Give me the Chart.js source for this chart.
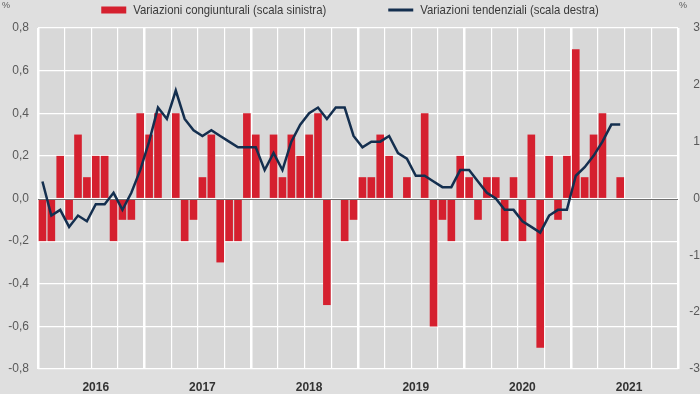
<!DOCTYPE html>
<html><head><meta charset="utf-8">
<script src="https://cdn.jsdelivr.net/npm/chart.js@4.4.1/dist/chart.umd.min.js"></script>
<style>html,body{margin:0;padding:0;background:#dfdfdf;}#wrap{width:700px;height:394px;position:relative;}</style>
</head><body><div id="wrap"><canvas id="c"></canvas></div>
<script>
// ---- data ----
const years = ['2016', '2017', '2018', '2019', '2020', '2021'];
const monthNames = ['gen','feb','mar','apr','mag','giu','lug','ago','set','ott','nov','dic'];
// Variazioni congiunturali (scala sinistra), gen 2016 - giu 2021
const congiunturali = [
  -0.2, -0.2, 0.2, -0.1, 0.3, 0.1, 0.2, 0.2, -0.2, -0.1, -0.1, 0.4,
  0.3, 0.4, 0.0, 0.4, -0.2, -0.1, 0.1, 0.3, -0.3, -0.2, -0.2, 0.4,
  0.3, 0.0, 0.3, 0.1, 0.3, 0.2, 0.3, 0.4, -0.5, 0.0, -0.2, -0.1,
  0.1, 0.1, 0.3, 0.2, 0.0, 0.1, 0.0, 0.4, -0.6, -0.1, -0.2, 0.2,
  0.1, -0.1, 0.1, 0.1, -0.2, 0.1, -0.2, 0.3, -0.7, 0.2, -0.1, 0.2,
  0.7, 0.1, 0.3, 0.4, 0.0, 0.1
];
// Variazioni tendenziali (scala destra)
const tendenziali = [
  0.3, -0.3, -0.2, -0.5, -0.3, -0.4, -0.1, -0.1, 0.1, -0.2, 0.1, 0.5,
  1.0, 1.6, 1.4, 1.9, 1.4, 1.2, 1.1, 1.2, 1.1, 1.0, 0.9, 0.9,
  0.9, 0.5, 0.8, 0.5, 1.0, 1.3, 1.5, 1.6, 1.4, 1.6, 1.6, 1.1,
  0.9, 1.0, 1.0, 1.1, 0.8, 0.7, 0.4, 0.4, 0.3, 0.2, 0.2, 0.5,
  0.5, 0.3, 0.1, 0.0, -0.2, -0.2, -0.4, -0.5, -0.6, -0.3, -0.2, -0.2,
  0.4, 0.55, 0.75, 1.0, 1.3, 1.3
];
const seriesLabels = ['Variazioni congiunturali (scala sinistra)', 'Variazioni tendenziali (scala destra)'];
const unitLabel = '%';
const categories = years.flatMap(y => monthNames.map(m => m + ' ' + y));

// ---- style ----
const FONT = '"Liberation Sans Narrow", "Arial Narrow", "Liberation Sans", Arial, sans-serif';
const RED = '#d5202f';
const NAVY = '#142f4f';

const bgPlugin = {
  id: 'bg',
  beforeDraw(chart) {
    const {ctx, chartArea: a} = chart;
    ctx.save();
    ctx.fillStyle = '#d8d8d8';
    ctx.fillRect(a.left, a.top, a.right - a.left, a.bottom - a.top);
    ctx.restore();
  }
};
const zeroLine = {
  id: 'zeroLine',
  afterDatasetDraw(chart, args) {
    if (args.index !== 0) return;
    const {ctx, chartArea: a} = chart;
    const y = Math.round(chart.scales.y.getPixelForValue(0)) + 0.5;
    ctx.save();
    ctx.strokeStyle = '#6f6f6f';
    ctx.lineWidth = 1;
    ctx.beginPath(); ctx.moveTo(a.left, y); ctx.lineTo(a.right, y); ctx.stroke();
    ctx.restore();
  }
};
const legendPlugin = {
  id: 'customLegend',
  afterDraw(chart) {
    const ctx = chart.ctx;
    ctx.save();
    ctx.font = '13px ' + FONT;
    ctx.textBaseline = 'middle';
    const raw1 = ctx.measureText(seriesLabels[0]).width;
    const raw2 = ctx.measureText(seriesLabels[1]).width;
    const sx = Math.min(1, 193 / raw1);   // condense like the narrow original font
    const w1 = raw1 * sx, w2 = raw2 * sx;
    const box = 25, gapT = 7, gapItems = 62;
    const total = box + gapT + w1 + gapItems + box + gapT + w2;
    let x = (chart.width - total) / 2;
    const yMid = 10;
    const drawText = (t, tx) => {
      ctx.save(); ctx.translate(tx, yMid); ctx.scale(sx, 1);
      ctx.fillStyle = '#3a3a3a'; ctx.fillText(t, 0, 0); ctx.restore();
    };
    ctx.fillStyle = RED;
    ctx.fillRect(x, yMid - 3.5, box, 7);
    drawText(seriesLabels[0], x + box + gapT);
    x += box + gapT + w1 + gapItems;
    ctx.strokeStyle = NAVY; ctx.lineWidth = 3;
    ctx.beginPath(); ctx.moveTo(x, yMid); ctx.lineTo(x + box, yMid); ctx.stroke();
    drawText(seriesLabels[1], x + box + gapT);
    // unit labels
    ctx.font = '9px ' + FONT;
    ctx.fillStyle = '#595959';
    ctx.textAlign = 'left';
    ctx.fillText(unitLabel, 2, 6);
    ctx.fillText(unitLabel, 679, 6);
    ctx.restore();
  }
};

new Chart(document.getElementById('c'), {
  data: {
    labels: categories,
    datasets: [
      { type: 'bar', label: seriesLabels[0], data: congiunturali, yAxisID: 'y', order: 2,
        backgroundColor: RED, borderWidth: 0, barPercentage: 0.86, categoryPercentage: 1 },
      { type: 'line', label: seriesLabels[1], data: tendenziali, yAxisID: 'y2', order: 1,
        borderColor: NAVY, borderWidth: 2.5, pointRadius: 0, tension: 0, fill: false }
    ]
  },
  options: {
    responsive: true, maintainAspectRatio: false, animation: false,
    layout: { padding: { top: 28, left: 0, right: 0, bottom: 0 } },
    plugins: { legend: { display: false }, tooltip: { enabled: false } },
    scales: {
      x: {
        type: 'category', offset: true,
        grid: {
          offset: true, drawTicks: false,
          color: c => (c.index === undefined || c.index % 3 === 0) ? '#ffffff' : 'rgba(0,0,0,0)',
          lineWidth: c => (c.index === undefined || c.index % 12 === 0) ? 2.5 : 1.2
        },
        border: { display: false },
        ticks: {
          autoSkip: false, maxRotation: 0, minRotation: 0, padding: 11,
          color: '#333333', font: { family: FONT, size: 12, weight: 'bold' },
          callback: (v, i) => (i % 12 === 6) ? years[Math.floor(i / 12)] : ''
        },
        afterFit: s => { s.height = 25; }
      },
      y: {
        position: 'left', min: -0.8, max: 0.8,
        grid: { color: '#ffffff', lineWidth: 1.2, drawTicks: false },
        border: { display: false },
        ticks: {
          stepSize: 0.2, padding: 9, color: '#595959', font: { family: FONT, size: 12 },
          callback: v => (Math.round(v * 10) / 10).toFixed(1).replace('.', ',')
        },
        afterFit: s => { s.width = 38; }
      },
      y2: {
        position: 'right', min: -3, max: 3,
        grid: { display: false, drawTicks: false },
        border: { display: false },
        ticks: {
          stepSize: 1, padding: 8, crossAlign: 'far', color: '#595959', font: { family: FONT, size: 12 },
          callback: v => String(Math.round(v))
        },
        afterFit: s => { s.width = 22; }
      }
    }
  },
  plugins: [bgPlugin, zeroLine, legendPlugin]
});
</script></body></html>
